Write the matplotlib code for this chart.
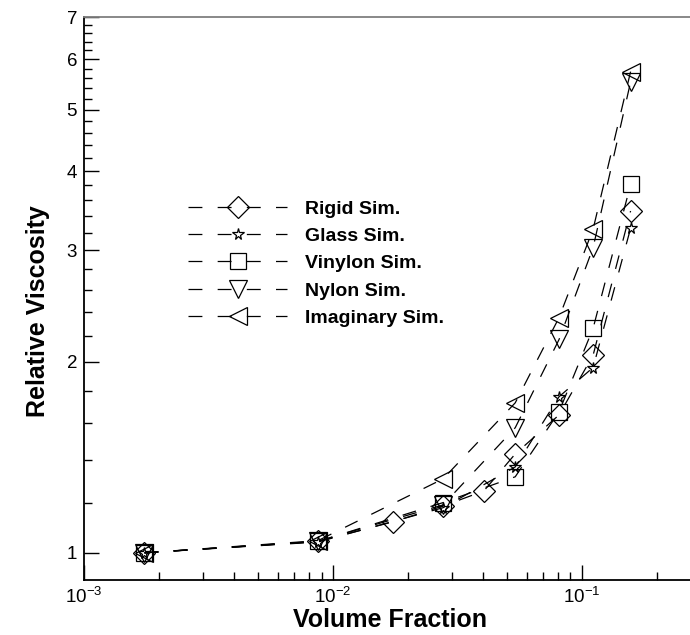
import matplotlib
matplotlib.use("Agg")
import matplotlib.pyplot as plt
from matplotlib.ticker import FixedLocator, FixedFormatter, LogLocator, NullFormatter

plt.rcParams['font.family'] = ['Liberation Sans', 'DejaVu Sans']
plt.rcParams['mathtext.fontset'] = 'custom'
plt.rcParams['mathtext.rm'] = 'Liberation Sans'
plt.rcParams['mathtext.it'] = 'Liberation Sans:italic'
plt.rcParams['mathtext.bf'] = 'Liberation Sans:bold'
plt.rcParams['lines.scale_dashes'] = False

# volume fractions
phi_rigid = [0.00175, 0.0087, 0.0174, 0.0277, 0.0404, 0.054, 0.081, 0.111, 0.157]
phi = [0.00175, 0.0087, 0.0277, 0.054, 0.081, 0.111, 0.157]

# relative viscosity for each particle type
rigid = [1.0, 1.042, 1.119, 1.185, 1.252, 1.432, 1.650, 2.05, 3.46]
glass = [1.0, 1.040, 1.178, 1.366, 1.763, 1.96, 3.25]
vinylon = [1.0, 1.042, 1.200, 1.318, 1.669, 2.26, 3.81]
nylon = [1.0, 1.043, 1.190, 1.575, 2.17, 3.03, 5.53]
imaginary = [1.0, 1.045, 1.308, 1.724, 2.35, 3.24, 5.74]

labels = ['Rigid Sim.', 'Glass Sim.', 'Vinylon Sim.', 'Nylon Sim.', 'Imaginary Sim.']
markers = ['D', '*', 's', 'v', '<']
sizes = [11, 8.5, 11, 13, 13]

W, H = 690, 635
fig = plt.figure(figsize=(W / 100, H / 100), dpi=100)
ax = fig.add_axes([84 / W, (H - 580) / H, (W - 84) / W, (580 - 17) / H])

series = [(phi_rigid, rigid), (phi, glass), (phi, vinylon), (phi, nylon), (phi, imaginary)]
for (x, y), lab, m, s in zip(series, labels, markers, sizes):
    ax.plot(x, y, color='black', lw=0.9, dashes=(10, 11), marker=m, ms=s,
            mfc='none', mec='black', mew=0.9, label=lab)

ax.set_xscale('log')
ax.set_yscale('log')
ax.set_xlim(1e-3, 0.272)
ax.set_ylim(0.906, 7)

ax.xaxis.set_major_locator(FixedLocator([1e-3, 1e-2, 1e-1]))
ax.xaxis.set_major_formatter(FixedFormatter([r'$10^{-3}$', r'$10^{-2}$', r'$10^{-1}$']))
ax.xaxis.set_minor_locator(LogLocator(base=10, subs=range(2, 10)))
ax.xaxis.set_minor_formatter(NullFormatter())

yt = [1, 2, 3, 4, 5, 6, 7]
ax.yaxis.set_major_locator(FixedLocator(yt))
ax.yaxis.set_major_formatter(FixedFormatter([str(v) for v in yt]))
ymin = [round(v + 0.2 * k, 1) for v in range(1, 7) for k in range(1, 5)]
ax.yaxis.set_minor_locator(FixedLocator(ymin))
ax.yaxis.set_minor_formatter(NullFormatter())

ax.tick_params(which='major', direction='in', length=10.5, width=1, labelsize=13.5)
ax.tick_params(which='minor', direction='in', length=5.8, width=1)
ax.tick_params(axis='x', which='major', pad=5)
ax.tick_params(axis='y', which='major', pad=5)
ax.tick_params(top=False, right=False, which='both')

ax.spines['right'].set_visible(False)
ax.spines['top'].set_color('#7f7f7f')
for sp in ['left', 'bottom', 'top']:
    ax.spines[sp].set_linewidth(1.3)

fig.text(390 / W, 1 - 620 / H, 'Volume Fraction', ha='center', va='center',
         fontsize=18, fontweight='bold')
fig.text(38 / W, 1 - 311 / H, 'Relative Viscosity', ha='center', va='center',
         rotation=90, fontsize=18, fontweight='bold')

ax.legend(loc='upper left', bbox_to_anchor=(188 / W, 1 - 200 / H),
          bbox_transform=fig.transFigure, frameon=False, borderpad=0,
          borderaxespad=0, handlelength=5.1, handletextpad=0.9,
          labelspacing=0.5, prop={'weight': 'bold', 'size': 14})

fig.savefig('out.png', dpi=100)
